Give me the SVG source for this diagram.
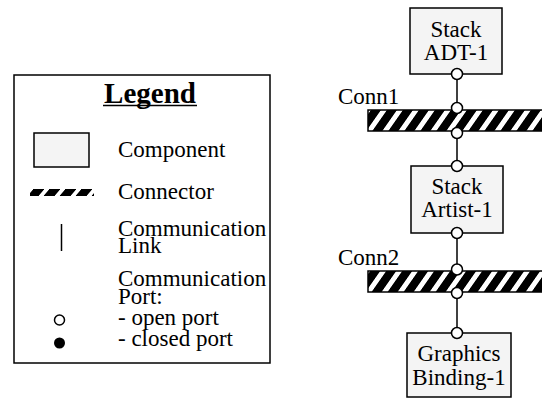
<svg xmlns="http://www.w3.org/2000/svg" width="542" height="398" viewBox="0 0 542 398">
<defs>
<pattern id="hatch" patternUnits="userSpaceOnUse" width="16" height="40" patternTransform="skewX(-35)">
<rect x="0" y="0" width="16" height="40" fill="#000"/>
<rect x="10" y="0" width="6" height="40" fill="#fff"/>
</pattern>
<pattern id="hatchSmall" patternUnits="userSpaceOnUse" width="16" height="40" patternTransform="skewX(-40)">
<rect x="0" y="0" width="16" height="40" fill="#000"/>
<rect x="11" y="0" width="5" height="40" fill="#fff"/>
</pattern>
</defs>
<style>
text{font-family:"Liberation Serif","Times New Roman",serif;font-size:23px;fill:#000}
.mid{text-anchor:middle}
.comp{fill:#f4f4f4;stroke:#000;stroke-width:1.5}
.bar{fill:url(#hatch);stroke:#000;stroke-width:1.5}
.port{fill:#fff;stroke:#000;stroke-width:1.5}
.link{stroke:#000;stroke-width:1.5;fill:none}
</style>
<rect width="542" height="398" fill="#fff"/>

<g id="legend">
<rect x="14" y="75" width="256" height="288" fill="#fff" stroke="#000" stroke-width="1.5"/>
<text x="150" y="103" class="mid" style="font-weight:bold;font-size:29px">Legend</text>
<line x1="103" y1="105.5" x2="197" y2="105.5" stroke="#000" stroke-width="1.5"/>
<rect x="34" y="133" width="55" height="34" class="comp"/>
<text x="118" y="157">Component</text>
<rect x="30" y="189" width="64" height="7" fill="url(#hatchSmall)"/>
<text x="118" y="199">Connector</text>
<line x1="61.5" y1="224" x2="61.5" y2="251" class="link"/>
<text x="118" y="236">Communication</text>
<text x="118" y="253">Link</text>
<text x="118" y="286">Communication</text>
<text x="118" y="304">Port:</text>
<circle cx="59.5" cy="320" r="5" class="port"/>
<text x="118" y="325">- open port</text>
<circle cx="59.5" cy="343" r="5.5" fill="#000"/>
<text x="118" y="346">- closed port</text>
</g>

<g id="connectors">
<line x1="457" y1="74" x2="457" y2="108" class="link"/>
<line x1="457" y1="133" x2="457" y2="166" class="link"/>
<line x1="457" y1="233" x2="457" y2="269" class="link"/>
<line x1="457" y1="293" x2="457" y2="333" class="link"/>
</g>

<g id="conn1">
<rect x="368" y="110" width="180" height="21" class="bar"/>
<text x="338" y="104">Conn1</text>
<circle cx="457" cy="108" r="5.5" class="port"/>
<circle cx="457" cy="133" r="5.5" class="port"/>
</g>

<g id="conn2">
<rect x="368" y="271" width="180" height="21" class="bar"/>
<text x="338" y="265">Conn2</text>
<circle cx="457" cy="269.5" r="5.5" class="port"/>
<circle cx="457" cy="293" r="5.5" class="port"/>
</g>

<g id="stack-adt-1">
<rect x="410" y="8" width="92" height="66" class="comp"/>
<text x="456" y="37" class="mid">Stack</text>
<text x="456" y="60" class="mid">ADT-1</text>
<circle cx="457" cy="74" r="5.5" class="port"/>
</g>

<g id="stack-artist-1">
<rect x="411" y="166" width="92" height="67" class="comp"/>
<text x="457" y="194" class="mid">Stack</text>
<text x="457" y="217" class="mid">Artist-1</text>
<circle cx="457" cy="166" r="5.5" class="port"/>
<circle cx="457" cy="233" r="5.5" class="port"/>
</g>

<g id="graphics-binding-1">
<rect x="407" y="333" width="104" height="64" class="comp"/>
<text x="459" y="361" class="mid">Graphics</text>
<text x="459" y="385" class="mid">Binding-1</text>
<circle cx="457" cy="333" r="5.5" class="port"/>
</g>
</svg>
